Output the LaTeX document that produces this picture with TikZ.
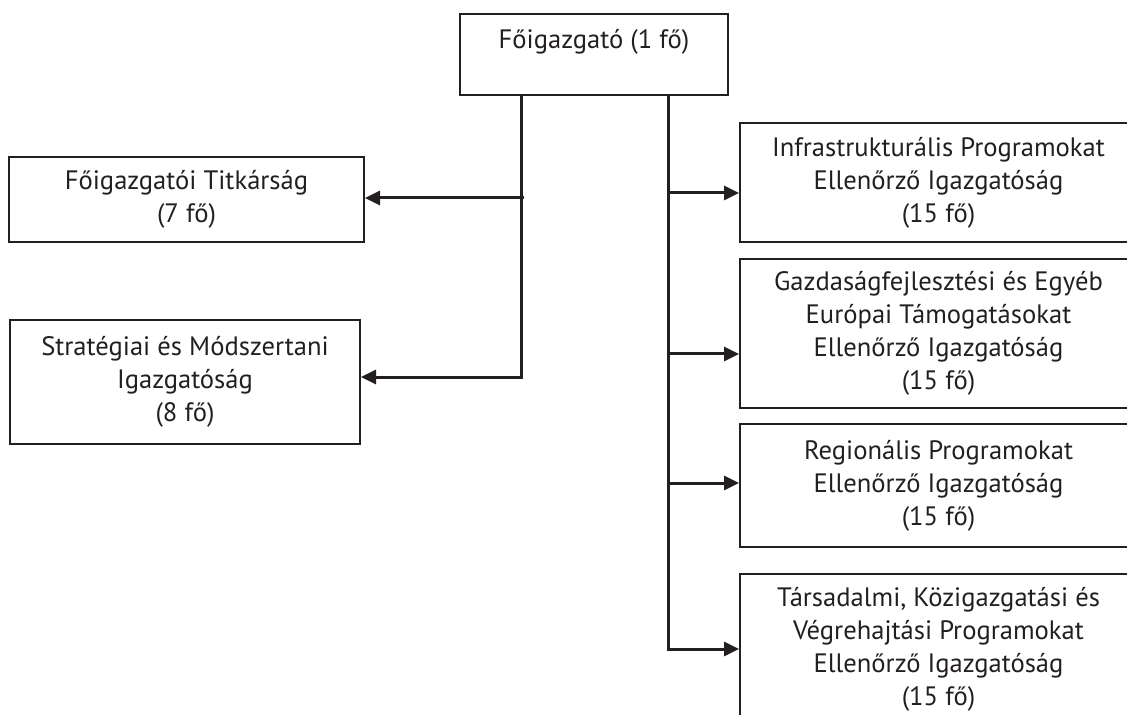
\documentclass[tikz,border=0pt]{standalone}
\usepackage{fontspec}
\setmainfont{PT Sans}
\usetikzlibrary{arrows.meta}
\definecolor{ink}{RGB}{35,31,32}
\tikzset{
  unit/.style={draw=ink, line width=1pt, text=ink, align=center, inner sep=0pt,
    anchor=north west, font=\fontsize{13.3}{16.5}\selectfont},
  link/.style={draw=ink, line width=1.5pt, -{Triangle[length=7.5pt,width=7pt]}}
}

\begin{document}
\begin{tikzpicture}[x=0.5pt, y=-0.5pt]
        \useasboundingbox (0,0) rectangle (1127,715);
        \clip (0,0) rectangle (1127,715);

        % Top box
        \node[unit, minimum width=134pt, minimum height=40.5pt, text height=10pt, text depth=15.5pt] (fo) at (459,13) {Főigazgató (1 fő)};

        % Left side
        \node[unit, minimum width=177.5pt, minimum height=42.5pt] (tt) at (8,156) {Főigazgatói Titkárság\\(7 fő)};
        \node[unit, minimum width=175pt, minimum height=62pt] (sm) at (9,319) {Stratégiai és Módszertani\\Igazgatóság\\(8 fő)};

        % Right side
        \node[unit, minimum width=198.5pt, minimum height=59.5pt] (ip) at (739,122) {Infrastrukturális Programokat\\Ellenőrző Igazgatóság\\(15 fő)};
        \node[unit, minimum width=198.5pt, minimum height=74.5pt] (ge) at (739,258) {Gazdaságfejlesztési és Egyéb\\Európai Támogatásokat\\Ellenőrző Igazgatóság\\(15 fő)};
        \node[unit, minimum width=198.5pt, minimum height=61.5pt] (rp) at (739,423) {Regionális Programokat\\Ellenőrző Igazgatóság\\(15 fő)};
        \node[unit, minimum width=198.5pt, minimum height=75pt] (tk) at (739,573) {Társadalmi, Közigazgatási és\\Végrehajtási Programokat\\Ellenőrző Igazgatóság\\(15 fő)};

        % Branch points
        \coordinate (tl) at (521,0);
        \coordinate (tr) at (668,0);
        \coordinate (b1) at (524,198);
        \coordinate (b2) at (521,377);
        \coordinate (a1) at (668,193);
        \coordinate (a2) at (668,354);
        \coordinate (a3) at (668,483);
        \coordinate (a4) at (668,649);

        % Connectors
        \draw[link] (fo.south -| tl) |- (b2 -| sm.east);
        \draw[link] (b1) -- (b1 -| tt.east);
        \draw[link] (fo.south -| tr) |- (a4 -| tk.west);
        \draw[link] (a1) -- (a1 -| ip.west);
        \draw[link] (a2) -- (a2 -| ge.west);
        \draw[link] (a3) -- (a3 -| rp.west);
    \end{tikzpicture}
\end{document}
